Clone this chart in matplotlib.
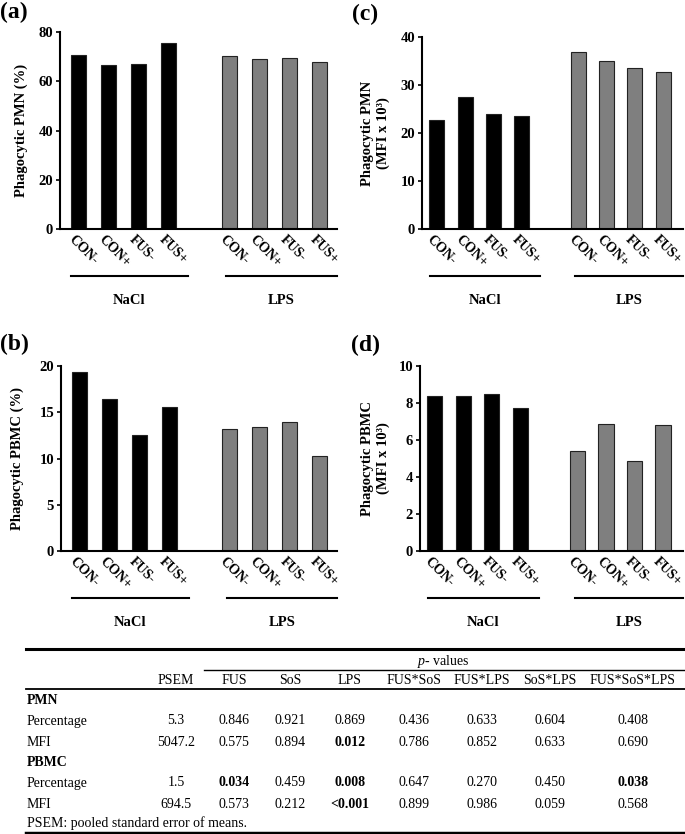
import matplotlib
matplotlib.use("Agg")
import matplotlib.pyplot as plt
import matplotlib.transforms as mtransforms

plt.rcParams['font.family'] = ['Liberation Serif', 'DejaVu Serif']
plt.rcParams['mathtext.fontset'] = 'custom'
plt.rcParams['mathtext.it'] = 'Liberation Serif:italic'
plt.rcParams['mathtext.rm'] = 'Liberation Serif'

# data
groups = ['NaCl', 'LPS']
treatments = ['CON-', 'CON+', 'FUS-', 'FUS+']
x_pos = [0, 1, 2, 3, 5, 6, 7, 8]

pmn_pct = [70.5, 66.6, 66.9, 75.7, 70.4, 69.0, 69.6, 67.8]
pmn_mfi = [22.7, 27.6, 23.9, 23.6, 36.8, 35.0, 33.5, 32.7]
pbmc_pct = [19.4, 16.4, 12.55, 15.6, 13.2, 13.45, 13.9, 10.25]
pbmc_mfi = [8.38, 8.38, 8.46, 7.72, 5.40, 6.86, 4.88, 6.79]

# table
tab_cols = ['PSEM', 'FUS', 'SoS', 'LPS', 'FUS*SoS', 'FUS*LPS', 'SoS*LPS', 'FUS*SoS*LPS']
tab_rows = [('PMN', None), ('Percentage', 'PMN'), ('MFI', 'PMN'),
            ('PBMC', None), ('Percentage', 'PBMC'), ('MFI', 'PBMC')]
pmn_pct_p = ['5.3', '0.846', '0.921', '0.869', '0.436', '0.633', '0.604', '0.408']
pmn_mfi_p = ['5047.2', '0.575', '0.894', '0.012', '0.786', '0.852', '0.633', '0.690']
pbmc_pct_p = ['1.5', '0.034', '0.459', '0.008', '0.647', '0.270', '0.450', '0.038']
pbmc_mfi_p = ['694.5', '0.573', '0.212', '<0.001', '0.899', '0.986', '0.059', '0.568']
bold_cells = {('MFI', 'PMN'): [3], ('Percentage', 'PBMC'): [1, 3, 7], ('MFI', 'PBMC'): [3]}

W, H = 685, 834
fig = plt.figure(figsize=(W / 100, H / 100), dpi=100)


def px_axes(l, t, r, b):
    return fig.add_axes([l / W, 1 - b / H, (r - l) / W, (b - t) / H])


def panel(box, vals, ylim, step, ylabel, letter, xlim, width, lab_x):
    ax = px_axes(*box)
    cols = ['black'] * 4 + ['#7f7f7f'] * 4
    ax.bar(x_pos, vals, width=width, color=cols, edgecolor='#222222', linewidth=0.8)
    ax.set_xlim(*xlim)
    ax.set_ylim(0, ylim)
    ax.set_yticks(range(0, ylim + 1, step))
    for s in ['top', 'right']:
        ax.spines[s].set_visible(False)
    ax.spines['left'].set_linewidth(1.5)
    ax.spines['bottom'].set_linewidth(1.5)
    ax.tick_params(axis='y', direction='out', length=3, width=1.2, labelsize=10.5, pad=2)
    for t in ax.get_yticklabels():
        t.set_fontweight('bold')
    ax.set_xticks([])
    ax.set_ylabel(ylabel, fontsize=10.5, fontweight='bold', linespacing=1.25)
    ax.yaxis.set_label_coords(lab_x, 0.5)
    # rotated category labels
    tr = mtransforms.offset_copy(ax.get_xaxis_transform(), fig, x=-3, y=-4, units='dots')
    for i, xp in enumerate(x_pos):
        ax.text(xp, 0, treatments[i % 4], transform=tr, rotation=-45, rotation_mode='anchor',
                ha='left', va='top', fontsize=10, fontweight='bold')
    # group lines and labels
    trl = mtransforms.offset_copy(ax.get_xaxis_transform(), fig, y=-47, units='dots')
    trt = mtransforms.offset_copy(ax.get_xaxis_transform(), fig, y=-71, units='dots')
    for g, (x0, x1) in zip(groups, [(-0.25, 3.65), (4.9, xlim[1])]):
        ax.plot([x0, x1], [0, 0], color='black', lw=1.5, transform=trl, clip_on=False)
        ax.text((x0 + x1) / 2, 0, g, transform=trt, ha='center', va='center',
                fontsize=10.5, fontweight='bold')
    fig.text(letter[1] / W, 1 - letter[2] / H, letter[0], fontsize=17, fontweight='bold',
             ha='left', va='center')
    return ax


panel((60, 32, 337, 229), pmn_pct, 80, 20, 'Phagocytic PMN (%)', ('(a)', 0, 12),
      (-0.6, 8.57), 0.5, -0.116)
panel((422, 37, 683, 229), pmn_mfi, 40, 10, 'Phagocytic PMN\n(MFI x 10³)', ('(c)', 352, 14),
      (-0.52, 8.7), 0.53, -0.123)
panel((61, 366, 337, 551), pbmc_pct, 20, 5, 'Phagocytic PBMC (%)', ('(b)', 0, 344),
      (-0.6, 8.57), 0.5, -0.134)
panel((420, 366, 683, 551), pbmc_mfi, 10, 2, 'Phagocytic PBMC\n(MFI x 10³)', ('(d)', 351, 345),
      (-0.52, 8.7), 0.53, -0.114)

# table drawn on a full-figure pixel axes
tx = fig.add_axes([0, 0, 1, 1], zorder=-1)
tx.set_xlim(0, W)
tx.set_ylim(H, 0)
tx.axis('off')

col_x = [176, 234, 290, 350, 414, 482, 550, 633]
row_y = [700, 721, 742, 762, 783, 804]
row_vals = {('Percentage', 'PMN'): pmn_pct_p, ('MFI', 'PMN'): pmn_mfi_p,
            ('Percentage', 'PBMC'): pbmc_pct_p, ('MFI', 'PBMC'): pbmc_mfi_p}
fs = 10

tx.plot([26, 685], [649, 649], color='black', lw=2.2)
tx.plot([204, 685], [670, 670], color='black', lw=1.0)
tx.plot([26, 685], [689, 689], color='black', lw=1.3)
tx.plot([26, 685], [833, 833], color='black', lw=2.5)
tx.text(443, 661, '$\\mathit{p}$- values', ha='center', va='center', fontsize=fs)
for c, cx in zip(tab_cols, col_x):
    tx.text(cx, 681, c, ha='center', va='center', fontsize=fs)
for (name, grp), ry in zip(tab_rows, row_y):
    if grp is None:
        tx.text(27, ry, name, ha='left', va='center', fontsize=fs, fontweight='bold')
        continue
    tx.text(27, ry, name, ha='left', va='center', fontsize=fs)
    bolds = bold_cells.get((name, grp), [])
    for j, (v, cx) in enumerate(zip(row_vals[(name, grp)], col_x)):
        tx.text(cx, ry, v, ha='center', va='center', fontsize=fs,
                fontweight='bold' if j in bolds else 'normal')
tx.text(27, 823, 'PSEM: pooled standard error of means.', ha='left', va='center', fontsize=fs)

fig.savefig('out.png', dpi=100)
